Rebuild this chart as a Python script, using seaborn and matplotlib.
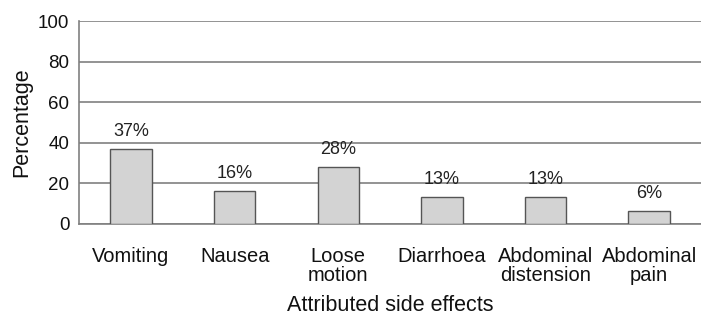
import numpy as np
import pandas as pd
import matplotlib
matplotlib.use('Agg')
import matplotlib.pyplot as plt
import seaborn as sns

# data
effects = ['Vomiting', 'Nausea', 'Loose\nmotion', 'Diarrhoea', 'Abdominal\ndistension', 'Abdominal\npain']
percent = [37, 16, 28, 13, 13, 6]
labels = ['37%', '16%', '28%', '13%', '13%', '6%']

df = pd.DataFrame({'effect': effects, 'pct': percent})

sns.set_style('white')
plt.rcParams['font.family'] = ['Liberation Sans', 'DejaVu Sans']

fig, ax = plt.subplots(figsize=(7.01, 3.24), dpi=100)
fig.subplots_adjust(left=0.113, right=1.0, top=0.935, bottom=0.31)

sns.barplot(data=df, x='effect', y='pct', color='#d3d3d3', edgecolor='#555555',
            linewidth=1, width=0.4, saturation=1, ax=ax, zorder=3)

for i, (v, t) in enumerate(zip(percent, labels)):
    ax.text(i, v + 4.5, t, ha='center', va='bottom', fontsize=13, color='#222222')

ax.set_ylim(0, 100)
ax.set_xlim(-0.5, 5.5)
ax.set_yticks(range(0, 101, 20))
ax.yaxis.grid(True, color='#808080', linewidth=1.2)
ax.set_axisbelow(True)

# ticks between categories on x axis
ax.set_xticks(np.arange(-0.5, 5.6, 1), minor=True)
ax.tick_params(axis='x', which='major', length=0, labelsize=14.5, pad=17)
ax.tick_params(axis='x', which='minor', length=5, color='#808080', width=1)
ax.tick_params(axis='y', length=5, color='#808080', width=1, labelsize=13.5, pad=2,
               labelcolor='#111111')
for lab in ax.get_xticklabels():
    lab.set_linespacing(1.0)
    lab.set_color('#111111')

for s in ['top', 'right']:
    ax.spines[s].set_visible(False)
for s in ['left', 'bottom']:
    ax.spines[s].set_color('#808080')
    ax.spines[s].set_linewidth(1.2)

ax.set_xlabel('Attributed side effects', fontsize=15.5, labelpad=7, color='#111111')
ax.set_ylabel('Percentage', fontsize=15.5, labelpad=4, color='#111111')

fig.savefig('out.png', dpi=100)
